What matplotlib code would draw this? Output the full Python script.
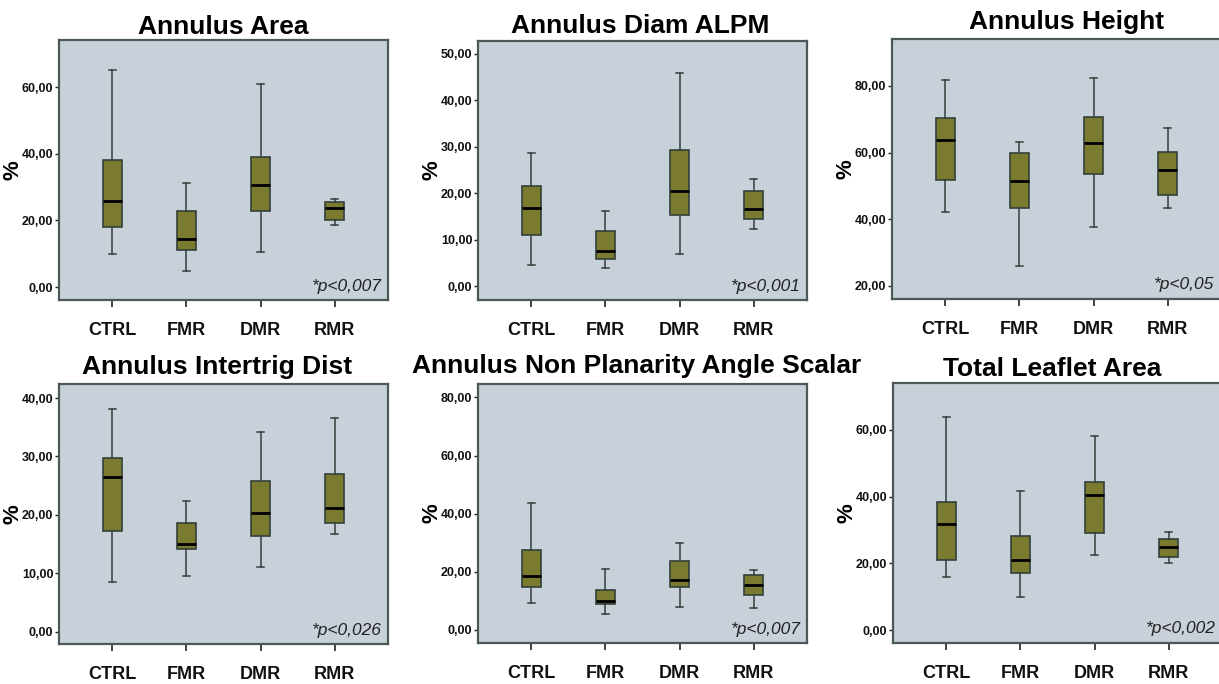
import matplotlib
matplotlib.use("Agg")
from matplotlib import pyplot as plt
from matplotlib.ticker import FuncFormatter, MultipleLocator

groups = ["CTRL", "FMR", "DMR", "RMR"]

titles = ["Annulus Area", "Annulus Diam ALPM", "Annulus Height",
          "Annulus Intertrig Dist", "Annulus Non Planarity Angle Scalar",
          "Total Leaflet Area"]
pvalues = ["*p<0,007", "*p<0,001", "*p<0,05", "*p<0,026", "*p<0,007", "*p<0,002"]

# per panel, per group: whisker low, Q1, median, Q3, whisker high
area_stats = [(10.0, 18.0, 25.7, 38.2, 65.2), (4.8, 11.2, 14.4, 22.8, 31.2),
              (10.6, 22.9, 30.5, 39.1, 60.9), (18.7, 20.1, 23.7, 25.4, 26.4)]
diam_stats = [(4.6, 11.0, 16.9, 21.5, 28.6), (4.0, 5.8, 7.7, 11.9, 16.1),
              (6.9, 15.4, 20.6, 29.4, 45.9), (12.4, 14.4, 16.6, 20.4, 23.1)]
height_stats = [(42.2, 51.8, 63.7, 70.3, 81.7), (26.0, 43.2, 51.5, 59.8, 63.3),
                (37.6, 53.5, 63.0, 70.6, 82.5), (43.3, 47.2, 54.7, 60.2, 67.5)]
intertrig_stats = [(8.5, 17.2, 26.4, 29.8, 38.2), (9.5, 14.1, 15.0, 18.6, 22.3),
                   (11.0, 16.3, 20.4, 25.8, 34.2), (16.8, 18.6, 21.1, 27.0, 36.5)]
nonplanar_stats = [(9.4, 14.6, 18.6, 27.4, 43.5), (5.5, 8.8, 9.9, 13.9, 21.1),
                   (8.0, 14.9, 17.1, 23.8, 29.9), (7.5, 11.9, 15.5, 18.9, 20.6)]
leaflet_stats = [(16.0, 21.0, 31.7, 38.3, 63.7), (10.0, 17.0, 20.9, 28.2, 41.6),
                 (22.4, 29.0, 40.5, 44.3, 58.1), (20.0, 21.8, 24.8, 27.3, 29.4)]

all_stats = [area_stats, diam_stats, height_stats,
             intertrig_stats, nonplanar_stats, leaflet_stats]
ylims = [(-3.9, 74.1), (-2.9, 52.7), (16.0, 94.1),
         (-2.1, 42.4), (-4.5, 84.6), (-3.8, 74.0)]
ysteps = [20, 10, 20, 10, 20, 20]

# axes boxes in pixels: left, top, right, bottom
boxes = [(59, 40, 388, 300), (478, 41, 807, 300), (892, 39, 1221, 299),
         (59, 384, 388, 644), (478, 384, 807, 643), (893, 383, 1222, 643)]
title_pos = [(223, 27), (640, 26), (1067, 22), (217, 367), (637, 366), (1052, 369)]

W, H = 1219, 684
face = "#c8d0d9"
olive = "#7b7b30"
edge = "#33403a"
frame = "#4b5a57"

fig = plt.figure(figsize=(W / 100, H / 100), dpi=100)
fig.patch.set_facecolor("white")

comma = FuncFormatter(lambda v, p: f"{v:.2f}".replace(".", ","))
narrow = ["Liberation Sans Narrow", "Liberation Sans", "DejaVu Sans"]

for i in range(6):
    l, t, r, b = boxes[i]
    ax = fig.add_axes([l / W, 1 - b / H, (r - l) / W, (b - t) / H])
    ax.set_facecolor(face)
    stats = []
    for g, (lo, q1, md, q3, hi) in zip(groups, all_stats[i]):
        stats.append(dict(label=g, whislo=lo, q1=q1, med=md, q3=q3, whishi=hi, fliers=[]))
    ax.bxp(stats, positions=[1, 2, 3, 4], widths=0.25, patch_artist=True,
           showfliers=False, capwidths=0.1,
           boxprops=dict(facecolor=olive, edgecolor=edge, linewidth=1.2),
           medianprops=dict(color="black", linewidth=2),
           whiskerprops=dict(color=edge, linewidth=1.1),
           capprops=dict(color=edge, linewidth=1.1))
    ax.set_xlim(0.28, 4.72)
    ax.set_ylim(*ylims[i])
    ax.yaxis.set_major_locator(MultipleLocator(ysteps[i]))
    ax.yaxis.set_major_formatter(comma)
    for s in ax.spines.values():
        s.set_color(frame)
        s.set_linewidth(1.6)
    ax.tick_params(axis="y", direction="out", length=3, width=1, color="#222222", pad=1)
    ax.tick_params(axis="x", direction="out", length=5, width=1.2, color="#222222", pad=11)
    for lab in ax.get_yticklabels():
        lab.set_fontfamily(narrow)
        lab.set_fontweight("bold")
        lab.set_fontsize(9)
        lab.set_color("#111111")
    for lab in ax.get_xticklabels():
        lab.set_fontfamily("Liberation Sans")
        lab.set_fontweight("bold")
        lab.set_fontsize(13)
        lab.set_color("#111111")
    ax.set_ylabel("%", fontsize=16, fontweight="bold", family="Liberation Sans")
    ax.yaxis.set_label_coords(-36 / (r - l), 0.5)
    ax.text(0.98, 0.025, pvalues[i], transform=ax.transAxes, ha="right", va="bottom",
            fontsize=12.5, style="italic", family="Liberation Sans", color="#222222")
    tx, ty = title_pos[i]
    fig.text(tx / W, 1 - ty / H, titles[i], ha="center", va="center",
             fontsize=19, fontweight="bold", family="Liberation Sans", color="black")

fig.savefig("out.png", dpi=100, facecolor="white")
